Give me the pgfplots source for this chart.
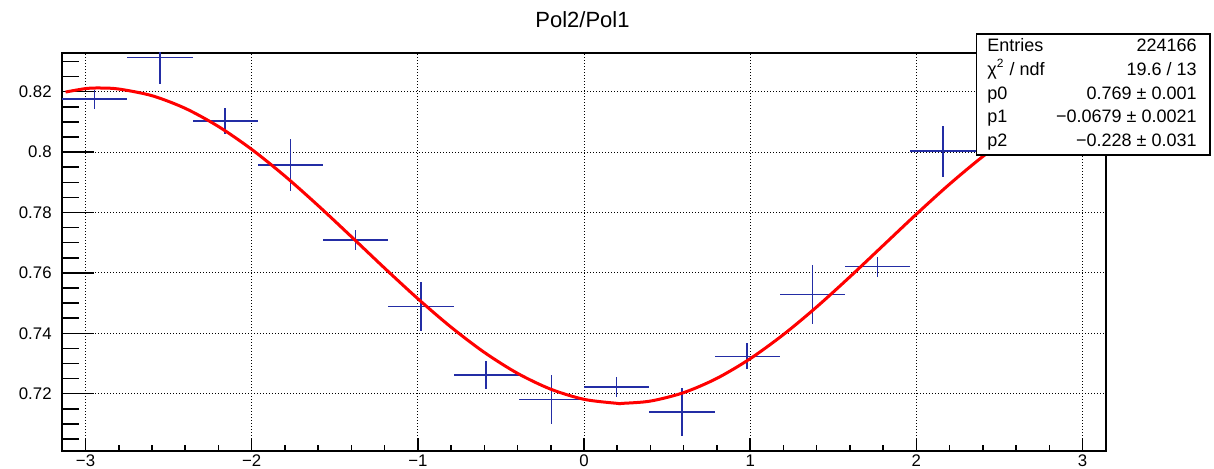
\documentclass[border=0pt]{standalone}
\usepackage{fontspec}
\setmainfont{Liberation Sans}
\usepackage{pgfplots}
\pgfplotsset{compat=1.18}
\definecolor{rootblue}{RGB}{35,45,165}
\begin{document}
\begin{tikzpicture}[x=1pt,y=1pt]
\path[use as bounding box] (0,0) rectangle (607,234.5);
\begin{axis}[
  at={(31pt,9pt)}, anchor=south west,
  scale only axis, width=522pt, height=199pt,
  xmin=-3.14159, xmax=3.14159, ymin=0.70103, ymax=0.83281,
  axis line style={line width=0.75pt, black},
  tick pos=left, tick align=inside,
  xtick={-3,-2,-1,0,1,2,3},
  xticklabels={−3,−2,−1,0,1,2,3},
  ytick={0.72,0.74,0.76,0.78,0.80,0.82},
  yticklabels={0.72,0.74,0.76,0.78,0.8,0.82},
  minor xtick={-2.8,-2.6,-2.4,-2.2,-1.8,-1.6,-1.4,-1.2,-0.8,-0.6,-0.4,-0.2,0.2,0.4,0.6,0.8,1.2,1.4,1.6,1.8,2.2,2.4,2.6,2.8},
  minor ytick={0.705,0.71,0.715,0.725,0.73,0.735,0.745,0.75,0.755,0.765,0.77,0.775,0.785,0.79,0.795,0.805,0.81,0.815,0.825,0.83},
  xtick style={line width=0.75pt, black, /pgfplots/major tick length=6.5pt, /pgfplots/minor tick length=3pt},
  ytick style={line width=0.75pt, black, /pgfplots/major tick length=15.8pt, /pgfplots/minor tick length=8.3pt},
  ticklabel style={font=\fontsize{8.4}{10}\selectfont},
  xticklabel style={inner sep=0pt, anchor=north, yshift=-1.6pt},
  yticklabel style={inner sep=0pt, anchor=east, xshift=-5pt},
  grid=major,
  major grid style={black, line width=0.5pt, dash pattern=on 0.5pt off 1pt},
]
\addplot[draw=none, mark=none,
  error bars/.cd, x dir=both, x explicit, y dir=both, y explicit,
  error mark=none, error bar style={draw=rootblue, solid, line width=0.75pt}]
  table[x=x, y=y, x error=ex, y error=ey] {
x y ex ey
-2.9452 0.8175 0.19635 0.0032
-2.5525 0.8313 0.19635 0.0088
-2.1598 0.8103 0.19635 0.0043
-1.7671 0.7958 0.19635 0.0086
-1.3744 0.7709 0.19635 0.0033
-0.9817 0.7488 0.19635 0.0081
-0.5890 0.7262 0.19635 0.0045
-0.1963 0.7181 0.19635 0.0082
0.1963 0.7222 0.19635 0.0032
0.5890 0.7139 0.19635 0.0079
0.9817 0.7324 0.19635 0.0043
1.3744 0.7529 0.19635 0.0097
1.7671 0.7621 0.19635 0.0033
2.1598 0.8003 0.19635 0.0084
2.5525 0.8150 0.19635 0.0045
2.9452 0.8200 0.19635 0.0085
};
\addplot[red, line width=1.5pt, smooth, no marks] coordinates {
(-3.12,0.81988) (-3.0,0.82102) (-2.914,0.82122) (-2.8,0.82088) (-2.6,0.81867)
(-2.4,0.81448) (-2.2,0.80847) (-2.0,0.80090) (-1.8,0.79205) (-1.6,0.78228)
(-1.4,0.77199) (-1.2,0.76157) (-1.0,0.75145) (-0.8,0.74203) (-0.6,0.73368)
(-0.4,0.72674) (-0.2,0.72149) (0.0,0.71814) (0.2,0.71680) (0.228,0.71679)
(0.4,0.71756) (0.6,0.72036) (0.8,0.72509) (1.0,0.73159) (1.2,0.73957)
(1.4,0.74872) (1.6,0.75869) (1.8,0.76906) (2.0,0.77943) (2.2,0.78939)
(2.4,0.79853) (2.6,0.80650) (2.8,0.81297) (3.0,0.81769) (3.14,0.81985)
};
\end{axis}
\node[anchor=base, font=\fontsize{11}{13}\selectfont, inner sep=0pt] at (291.25,220.85) {Pol2/Pol1};
\draw[black, line width=0.75pt, fill=white] (488.3,157) rectangle (605,217.5);
\begin{scope}[every node/.style={inner sep=0pt, font=\fontsize{9}{11}\selectfont}]
\node[anchor=base west] at (493.5,208.7) {Entries};
\node[anchor=base east] at (598.5,208.7) {224166};
\node[anchor=base west] at (493.5,196.8) {χ\textsuperscript{2} / ndf};
\node[anchor=base east] at (598.5,196.8) {19.6 / 13};
\node[anchor=base west] at (493.5,184.9) {p0};
\node[anchor=base east] at (598.5,184.9) {0.769 ± 0.001};
\node[anchor=base west] at (493.5,173.0) {p1};
\node[anchor=base east] at (598.5,173.0) {−0.0679 ± 0.0021};
\node[anchor=base west] at (493.5,161.1) {p2};
\node[anchor=base east] at (598.5,161.1) {−0.228 ± 0.031};
\end{scope}
\end{tikzpicture}
\end{document}
